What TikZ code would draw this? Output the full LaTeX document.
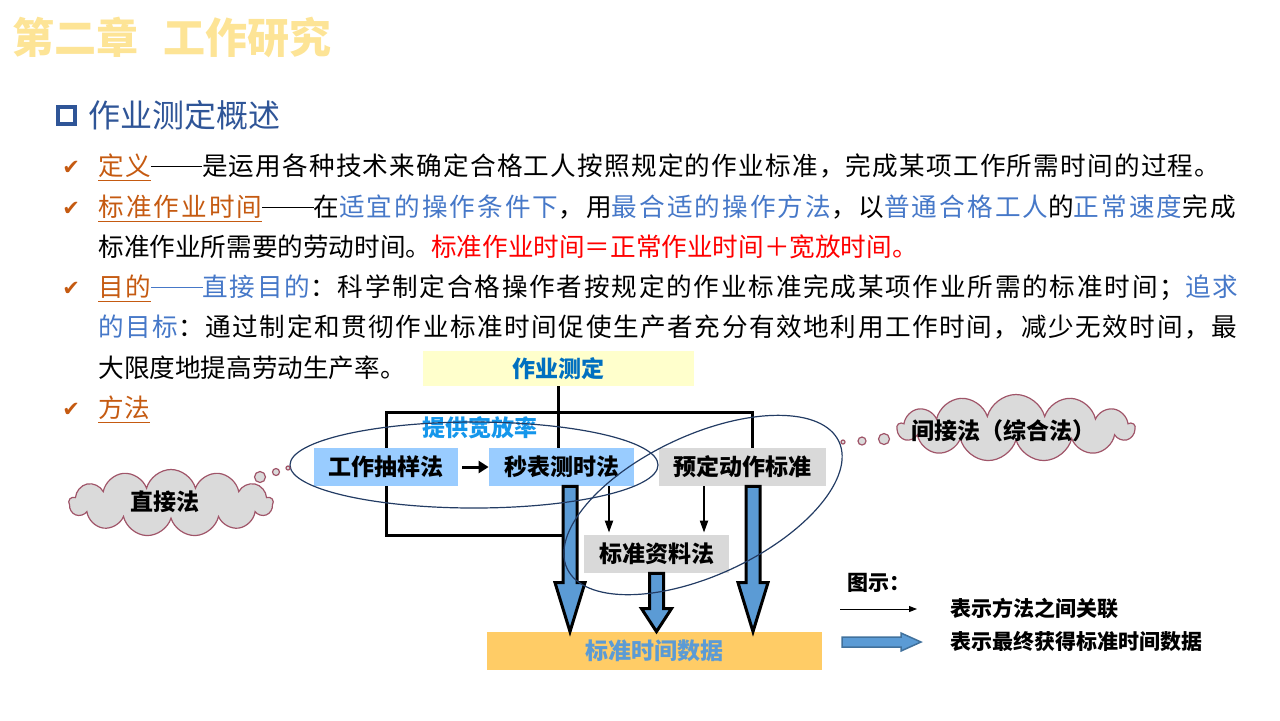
\documentclass[tikz,border=0pt]{standalone}
\usepackage{fontspec}
\setmainfont{Noto Sans CJK SC}
\newfontfamily\symfont{DejaVu Sans}
\usepackage{tikz}
\usetikzlibrary{positioning,arrows.meta,calc,shapes.symbols}
\definecolor{titlec}{RGB}{253,228,150}
\definecolor{headc}{RGB}{47,85,151}
\definecolor{termc}{RGB}{197,90,17}
\definecolor{hintc}{RGB}{70,120,200}
\definecolor{measurec}{RGB}{255,255,204}
\definecolor{measuretext}{RGB}{0,112,192}
\definecolor{bluebox}{RGB}{153,204,255}
\definecolor{graybox}{RGB}{217,217,217}
\definecolor{timec}{RGB}{255,204,102}
\definecolor{timetext}{RGB}{91,155,213}
\definecolor{allowc}{RGB}{20,150,235}
\definecolor{arrowc}{RGB}{91,155,213}
\definecolor{cloudc}{RGB}{218,218,218}
\definecolor{cloudline}{RGB}{160,85,105}
\definecolor{ringc}{RGB}{35,60,100}
\definecolor{legendline}{RGB}{65,113,156}
\newcommand{\keyterm}[1]{\textcolor{termc}{\underline{#1}}}
\newcommand{\hilite}[1]{\textcolor{hintc}{#1}}
\newcommand{\ddash}{\rule[0.33em]{2em}{0.05em}}
\newcommand{\spread}[2]{\addfontfeature{LetterSpace=#1}#2}
\newcommand{\blockarrow}[3]{\draw[blockarrow] let \p1=#1, \p2=#2 in (\x1-3.5pt,\y1) -- (\x1-3.5pt,\y2+#3) -- (\x1-7.5pt,\y2+#3) -- (\x1,\y2) -- (\x1+7.5pt,\y2+#3) -- (\x1+3.5pt,\y2+#3) -- (\x1+3.5pt,\y1) -- cycle;}
\tikzset{
  body/.style={anchor=west,inner sep=0pt,font=\fontsize{12.8}{15}\selectfont},
  tick/.style={anchor=west,inner sep=0pt,text=termc,font=\symfont\fontsize{10.5}{12}\selectfont},
  method/.style={minimum height=19pt,inner sep=0pt,font=\bfseries\fontsize{11.5}{13}\selectfont},
  link/.style={line width=1.5pt},
  relate/.style={line width=1pt,shorten >=1pt,-{Triangle[length=6pt,width=4pt]}},
  blockarrow/.style={draw=black,line width=1.5pt,fill=arrowc,line join=miter},
  thought/.style={cloud,cloud puffs=13,cloud ignores aspect,draw=cloudline,fill=cloudc,line width=0.6pt,inner sep=0pt},
  cloudtext/.style={inner sep=0pt,font=\bfseries\fontsize{11.5}{13}\selectfont},
  bubble/.style={draw=cloudline,fill=cloudc,line width=0.6pt},
  group/.style={draw=ringc,line width=0.6pt},
  legendtext/.style={anchor=west,inner sep=0pt,font=\bfseries\fontsize{10.5}{12}\selectfont}
}
\begin{document}
\begin{tikzpicture}[x=0.5pt,y=-0.5pt]
  \useasboundingbox (0,0) rectangle (1280,720);
  \node[anchor=west,inner sep=0pt,text=titlec,font=\bfseries\fontsize{21}{24}\selectfont] (title) at(12,37){第二章\hspace{12.5pt}工作研究};
  \node[draw=headc,line width=2pt,minimum size=8.5pt,inner sep=0pt] (headbox) at(66,115){};
  \node[anchor=west,inner sep=0pt,text=headc,font=\fontsize{16}{18}\selectfont] (head) at(88,115){作业测定概述};
  \node[tick] (c1) at(62,168){✔};\node[tick] (c2) at(62,209){✔};\node[tick] (c3) at(62,289){✔};\node[tick] (c4) at(62,410){✔};
  \node[body] (l1) at(98,168){\spread{4.8}{\keyterm{定义}\ddash 是运用各种技术来确定合格工人按照规定的作业标准，完成某项工作所需时间的过程。}};
  \node[body] (l2) at(98,209){\spread{8.1}{\keyterm{标准作业时间}\ddash 在\hilite{适宜的操作条件下}，用\hilite{最合适的操作方法}，以\hilite{普通合格工人}的\hilite{正常速度}完成}};
  \node[body] (l3) at(98,247){标准作业所需要的劳动时间。\textcolor{red}{标准作业时间＝正常作业时间＋宽放时间。}};
  \node[body] (l4) at(98,289){\spread{7.0}{\keyterm{目的}\hilite{\ddash 直接目的}：科学制定合格操作者按规定的作业标准完成某项作业所需的标准时间；\hilite{追求}}};
  \node[body] (l5) at(98,327){\spread{6.2}{\hilite{的目标}：通过制定和贯彻作业标准时间促使生产者充分有效地利用工作时间，减少无效时间，最}};
  \node[body] (l6) at(98,368){大限度地提高劳动生产率。};
  \node[body] (l7) at(98,410){\keyterm{方法}};
  \node[method,fill=measurec,text=measuretext,minimum width=135.5pt,minimum height=17.5pt] (measure) at(558.5,368.5){作业测定};
  \node[method,fill=bluebox,minimum width=72pt] (sampling) at(386,467){工作抽样法};
  \node[method,fill=bluebox,minimum width=72.5pt] (stopwatch) at(561.5,467){秒表测时法};
  \node[method,fill=graybox,minimum width=83.5pt] (predet) at(742.5,467){预定动作标准};
  \node[method,fill=graybox,minimum width=72.5pt] (stddata) at(656.5,554){标准资料法};
  \node[method,fill=timec,text=timetext,minimum width=167.5pt] (timedata) at(654.5,651){标准时间数据};
  \node[cloudtext,text=allowc] (allow) at(480,428){提供宽放率};
  \draw[link] (measure.south) -- (measure.south |- stopwatch.north);
  \draw[link] (sampling.north) -- ++(0,-35) -| ($(predet.north)+(10,0)$);
  \coordinate (joinA) at(563,535);
  \draw[link] (sampling.south) |- (joinA);
  \draw[link,-{Triangle[length=5pt,width=6pt]}] ([xshift=2pt]sampling.east) -- (stopwatch.west);
  \path (stddata.north) ++(-47.5,0) coordinate (relL) ++(95,0) coordinate (relR);
  \draw[relate] (relL |- stopwatch.south) -- (relL);\draw[relate] (relR |- predet.south) -- (relR);
  \blockarrow{($(stopwatch.south)+(8.5,0)$)}{(timedata.north)}{24.5pt}
  \blockarrow{(stddata.south)}{(timedata.north)}{11.5pt}
  \blockarrow{($(predet.south)+(10.5,0)$)}{(timedata.north)}{24.5pt}
  \draw[group] (474,465) ellipse[x radius=184,y radius=43];
  \draw[group,rotate around={25:(703,505)}] (703,505) ellipse[x radius=150,y radius=70];
  \node[thought,minimum width=102pt,minimum height=33.5pt] (direct) at(171,503){};
  \node[cloudtext] (directlab) at(165,502){直接法};
  \draw[bubble] (260,477) circle[radius=5.5] (276,472) circle[radius=3.5] (288,468) circle[radius=2];
  \node[thought,minimum width=118.5pt,minimum height=33.5pt] (indirect) at(1016,428){};
  \node[cloudtext] (indirectlab) at(1003,431){间接法（综合法）};
  \draw[bubble] (843,442) circle[radius=2] (862,441) circle[radius=4] (884,439) circle[radius=5.5];
  \node[legendtext] (legend) at(847,583){图示：};
  \coordinate (lgA) at(840,609);\coordinate (lgB) at(917,609);
  \draw[line width=0.5pt,-{Triangle[length=4pt,width=3pt]}] (lgA) -- (lgB);
  \node[legendtext] (lgtext1) at(950,608){表示方法之间关联};
  \draw[fill=arrowc,draw=legendline,line width=0.75pt] (842,637) -- (901,637) -- (901,633) -- (921,642) -- (901,651) -- (901,647) -- (842,647) -- cycle;
  \node[legendtext] (lgtext2) at(950,641){表示最终获得标准时间数据};
\end{tikzpicture}
\end{document}
